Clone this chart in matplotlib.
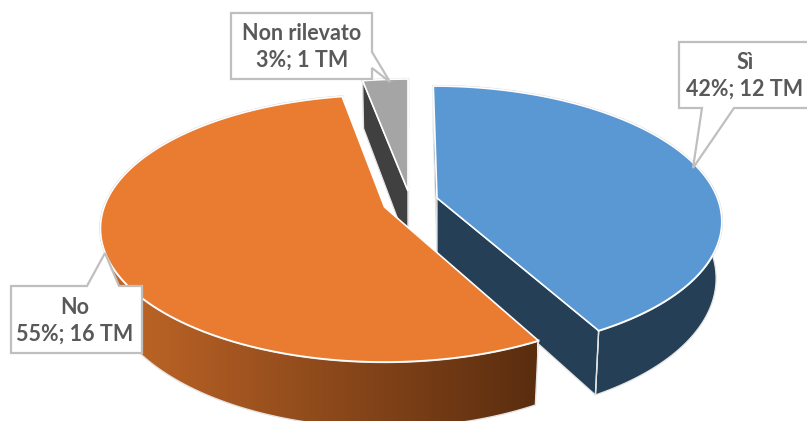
import numpy as np
import matplotlib
matplotlib.use('Agg')
from matplotlib import pyplot as plt
from matplotlib.patches import Polygon

labels = ['Sì', 'No', 'Non rilevato']
percents = [42, 55, 3]
counts = [12, 16, 1]

top_colors = ['#5A98D4', '#EA7C31', '#A5A5A5']
wall_colors = ['#243F56', None, '#404040']
# apex of every exploded slice, in pixels
apex = [(437, 198), (384.5, 207), (408, 191)]
nudge = [0.0, 0.7, 0.0]
shear = [0.033, 0.0, 0.0]

# perspective of the pie
D = 6.2
FX = 1738.0
FY = 806.0
H = 342.0
SHRINK = 0.02


def project(theta, r, cx, cy, s=0.0, drop=False):
    px = r * np.sin(theta)
    py = r * np.cos(theta)
    w = D + py
    x = FX * px / w
    y = cy - FY * py / w
    x = x + s * (y - cy)
    if drop:
        x = x * (1 - SHRINK)
        y = y + H / w
    return cx + x, y


def draw_slice(ax, t0, t1, cx, cy, top, wall, s):
    th = np.radians(np.linspace(t0, t1, 200))
    xo, yo = project(th, 1.0, cx, cy, s)
    xb, yb = project(th, 1.0, cx, cy, s, True)
    ax0, ay0 = project(th[0], 0.0, cx, cy, s)
    ax1, ay1 = project(th[0], 0.0, cx, cy, s, True)
    rim = np.column_stack([np.r_[xo, xb[::-1]], np.r_[yo, yb[::-1]]])
    side0 = [(xo[0], yo[0]), (ax0, ay0), (ax1, ay1), (xb[0], yb[0])]
    side1 = [(xo[-1], yo[-1]), (ax0, ay0), (ax1, ay1), (xb[-1], yb[-1])]
    edge = '#E4E4E4'
    # walls first, the top face goes over them
    if wall is None:
        # orange rim has a left to right gradient
        grad = np.linspace(0, 1, 256).reshape(1, -1)
        cmap = matplotlib.colors.LinearSegmentedColormap.from_list('o', ['#C46828', '#5A2D0F'])
        p = Polygon(rim, closed=True, fc='none', ec='none')
        ax.add_patch(p)
        im = ax.imshow(grad, cmap=cmap, extent=(100, 537, 430, 200), aspect='auto', zorder=2)
        im.set_clip_path(p)
        ax.add_patch(Polygon(rim, closed=True, fc='none', ec=edge, lw=1.0, zorder=2.1))
    else:
        ax.add_patch(Polygon(rim, closed=True, fc=wall, ec=edge, lw=0.9, zorder=2))
        for side in (side0, side1):
            ax.add_patch(Polygon(side, closed=True, fc=wall, ec=edge, lw=0.9, zorder=2))
        # corner line between radial wall and rim
        ax.plot([xo[-1], xb[-1]], [yo[-1], yb[-1]], color=edge, lw=1.0, zorder=2.1)
    ax.plot(xo, yo, color='#D4D4D4', lw=1.7, zorder=2.5)
    face = np.vstack([[ax0, ay0], np.column_stack([xo, yo])])
    ax.add_patch(Polygon(face, closed=True, fc=top, ec='white', lw=1.2, zorder=3))


fig = plt.figure(figsize=(8.07, 4.21), dpi=100)
ax = fig.add_axes([0, 0, 1, 1])
ang = np.cumsum([0] + [p * 3.6 for p in percents])

# back slice first
for i in [2, 0, 1]:
    draw_slice(ax, ang[i] + nudge[i], ang[i + 1] + nudge[i], apex[i][0], apex[i][1],
               top_colors[i], wall_colors[i], shear[i])

# callouts
callouts = [
    [(679, 42), (810, 42), (810, 108), (734, 108), (693, 168), (702, 108), (679, 108)],
    [(11, 286), (87, 286), (105, 253), (119, 286), (142, 286), (142, 353), (11, 353)],
    [(231, 13), (372, 13), (372, 52), (390, 82), (372, 68), (372, 79), (231, 79)],
]
text_pos = [(745, 76), (75, 321), (302, 47)]
for i in range(3):
    ax.add_patch(Polygon(callouts[i], closed=True, fc='white', ec='#BFBFBF', lw=1.6, zorder=5))
    ax.text(text_pos[i][0], text_pos[i][1], '%s\n%d%%; %d TM' % (labels[i], percents[i], counts[i]),
            ha='center', va='center', fontsize=15.5, fontweight='bold', family='Lato',
            color='#595959', linespacing=1.35, zorder=6)

ax.set_xlim(0, 807)
ax.set_ylim(421, 0)
ax.axis('off')
fig.savefig('out.png', dpi=100)
